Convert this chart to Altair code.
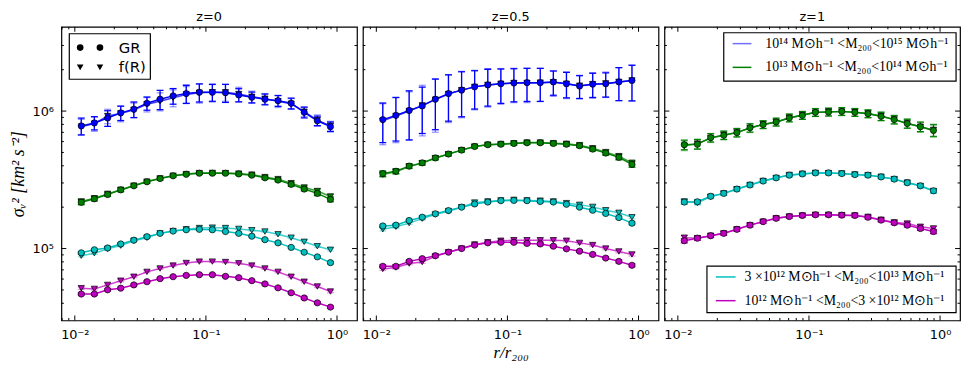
import altair as alt
import pandas as pd

# ---------------- data ----------------
r_bins = [0.0112, 0.0141, 0.0178, 0.0224, 0.0282, 0.0355, 0.0447, 0.0562, 0.0708, 0.0891,
          0.112, 0.141, 0.178, 0.224, 0.282, 0.355, 0.447, 0.562, 0.708, 0.891]

mass_bins = ["m14", "m13", "m3e12", "m12"]
mass_colors = ["#0000ff", "#008000", "#00bfbf", "#bf00bf"]
panel_titles = ["z=0", "z=0.5", "z=1"]

# z = 0
z0_m14_gr = [7.8e5, 8.2e5, 8.9e5, 9.7e5, 1.03e6, 1.14e6, 1.22e6, 1.29e6, 1.34e6, 1.37e6,
             1.37e6, 1.36e6, 1.31e6, 1.26e6, 1.22e6, 1.19e6, 1.14e6, 9.8e5, 8.5e5, 7.7e5]
z0_m14_fr = [7.7e5, 8.1e5, 9.2e5, 9.6e5, 1.02e6, 1.12e6, 1.18e6, 1.25e6, 1.32e6, 1.36e6,
             1.37e6, 1.37e6, 1.33e6, 1.27e6, 1.23e6, 1.18e6, 1.13e6, 9.9e5, 8.6e5, 7.8e5]
z0_m13_gr = [2.17e5, 2.30e5, 2.47e5, 2.67e5, 2.86e5, 3.06e5, 3.23e5, 3.38e5, 3.47e5, 3.53e5,
             3.53e5, 3.53e5, 3.49e5, 3.42e5, 3.27e5, 3.15e5, 2.93e5, 2.71e5, 2.52e5, 2.28e5]
z0_m13_fr = [2.20e5, 2.32e5, 2.50e5, 2.68e5, 2.87e5, 3.07e5, 3.24e5, 3.39e5, 3.48e5, 3.54e5,
             3.55e5, 3.54e5, 3.51e5, 3.45e5, 3.31e5, 3.20e5, 2.99e5, 2.78e5, 2.62e5, 2.39e5]
z0_m3e12_gr = [9.31e4, 9.80e4, 1.01e5, 1.08e5, 1.15e5, 1.22e5, 1.29e5, 1.34e5, 1.37e5, 1.38e5,
               1.37e5, 1.33e5, 1.29e5, 1.23e5, 1.16e5, 1.10e5, 1.02e5, 9.4e4, 8.7e4, 7.9e4]
z0_m3e12_fr = [8.87e4, 9.25e4, 9.95e4, 1.05e5, 1.14e5, 1.20e5, 1.29e5, 1.34e5, 1.38e5, 1.41e5,
               1.42e5, 1.41e5, 1.39e5, 1.36e5, 1.33e5, 1.27e5, 1.20e5, 1.12e5, 1.04e5, 9.8e4]
z0_m12_gr = [4.67e4, 4.67e4, 5.01e4, 5.15e4, 5.44e4, 5.74e4, 6.04e4, 6.24e4, 6.38e4, 6.45e4,
             6.45e4, 6.28e4, 6.14e4, 5.84e4, 5.53e4, 5.18e4, 4.77e4, 4.37e4, 4.03e4, 3.75e4]
z0_m12_fr = [5.15e4, 5.09e4, 5.44e4, 5.84e4, 6.24e4, 6.77e4, 7.16e4, 7.52e4, 7.85e4, 8.04e4,
             8.04e4, 7.98e4, 7.81e4, 7.52e4, 7.16e4, 6.77e4, 6.24e4, 5.74e4, 5.30e4, 4.87e4]

# z = 0.5
z05_m14_gr = [8.67e5, 9.31e5, 1.01e6, 1.09e6, 1.22e6, 1.34e6, 1.42e6, 1.50e6, 1.55e6, 1.58e6,
              1.60e6, 1.61e6, 1.61e6, 1.63e6, 1.58e6, 1.52e6, 1.57e6, 1.58e6, 1.63e6, 1.67e6]
z05_m14_fr = [8.50e5, 9.20e5, 1.00e6, 1.10e6, 1.21e6, 1.33e6, 1.42e6, 1.50e6, 1.55e6, 1.58e6,
              1.60e6, 1.60e6, 1.61e6, 1.62e6, 1.58e6, 1.53e6, 1.57e6, 1.59e6, 1.63e6, 1.67e6]
z05_m13_gr = [3.51e5, 3.65e5, 3.98e5, 4.20e5, 4.56e5, 4.87e5, 5.20e5, 5.53e5, 5.69e5, 5.74e5,
              5.81e5, 5.88e5, 5.88e5, 5.81e5, 5.74e5, 5.60e5, 5.29e5, 4.95e5, 4.61e5, 4.09e5]
z05_m13_fr = [3.45e5, 3.62e5, 3.95e5, 4.18e5, 4.55e5, 4.86e5, 5.20e5, 5.52e5, 5.70e5, 5.76e5,
              5.83e5, 5.90e5, 5.90e5, 5.84e5, 5.78e5, 5.65e5, 5.36e5, 5.03e5, 4.70e5, 4.20e5]
z05_m3e12_gr = [1.46e5, 1.48e5, 1.60e5, 1.69e5, 1.79e5, 1.89e5, 2.00e5, 2.11e5, 2.18e5, 2.23e5,
                2.24e5, 2.23e5, 2.20e5, 2.18e5, 2.10e5, 2.00e5, 1.90e5, 1.80e5, 1.68e5, 1.53e5]
z05_m3e12_fr = [1.38e5, 1.44e5, 1.53e5, 1.65e5, 1.77e5, 1.87e5, 2.00e5, 2.16e5, 2.20e5, 2.24e5,
                2.26e5, 2.24e5, 2.23e5, 2.20e5, 2.14e5, 2.08e5, 2.01e5, 1.90e5, 1.82e5, 1.69e5]
z05_m12_gr = [7.43e4, 7.43e4, 8.07e4, 8.44e4, 8.87e4, 9.41e4, 1.00e5, 1.06e5, 1.10e5, 1.11e5,
              1.11e5, 1.09e5, 1.08e5, 1.04e5, 9.95e4, 9.57e4, 9.06e4, 8.53e4, 8.07e4, 7.56e4]
z05_m12_fr = [7.11e4, 7.28e4, 7.78e4, 7.98e4, 8.77e4, 9.41e4, 1.00e5, 1.07e5, 1.11e5, 1.14e5,
              1.15e5, 1.15e5, 1.15e5, 1.15e5, 1.14e5, 1.10e5, 1.06e5, 1.00e5, 9.53e4, 9.06e4]

# z = 1 (no 1e14 haloes)
z1_m13_gr = [5.69e5, 5.74e5, 6.41e5, 6.67e5, 6.97e5, 7.56e5, 7.98e5, 8.34e5, 8.91e5, 9.31e5,
             9.79e5, 9.84e5, 9.95e5, 9.79e5, 9.57e5, 9.16e5, 8.67e5, 8.11e5, 7.69e5, 7.23e5]
z1_m13_fr = [5.60e5, 5.80e5, 6.35e5, 6.70e5, 7.00e5, 7.50e5, 8.00e5, 8.30e5, 8.95e5, 9.35e5,
             9.75e5, 9.90e5, 9.90e5, 9.80e5, 9.60e5, 9.20e5, 8.70e5, 8.15e5, 7.70e5, 7.30e5]
z1_m3e12_gr = [2.18e5, 2.19e5, 2.40e5, 2.52e5, 2.71e5, 2.90e5, 3.10e5, 3.27e5, 3.42e5, 3.49e5,
               3.55e5, 3.55e5, 3.51e5, 3.45e5, 3.42e5, 3.32e5, 3.20e5, 3.01e5, 2.86e5, 2.63e5]
z1_m3e12_fr = [2.20e5, 2.15e5, 2.38e5, 2.52e5, 2.70e5, 2.90e5, 3.10e5, 3.26e5, 3.43e5, 3.50e5,
               3.55e5, 3.54e5, 3.52e5, 3.46e5, 3.42e5, 3.33e5, 3.20e5, 3.02e5, 2.85e5, 2.62e5]
z1_m12_gr = [1.14e5, 1.19e5, 1.24e5, 1.29e5, 1.38e5, 1.48e5, 1.57e5, 1.66e5, 1.71e5, 1.74e5,
             1.76e5, 1.76e5, 1.75e5, 1.74e5, 1.69e5, 1.61e5, 1.54e5, 1.48e5, 1.40e5, 1.33e5]
z1_m12_fr = [1.20e5, 1.19e5, 1.24e5, 1.29e5, 1.38e5, 1.48e5, 1.57e5, 1.66e5, 1.71e5, 1.74e5,
             1.76e5, 1.76e5, 1.75e5, 1.74e5, 1.70e5, 1.62e5, 1.55e5, 1.52e5, 1.44e5, 1.40e5]

# relative 1-sigma errors
z0_m14_gr_err = [0.14, 0.11, 0.13, 0.12, 0.13, 0.11, 0.16, 0.13, 0.15, 0.15,
                 0.14, 0.15, 0.11, 0.09, 0.09, 0.09, 0.09, 0.09, 0.08, 0.08]
z0_m14_fr_err = [0.13, 0.12, 0.12, 0.13, 0.12, 0.12, 0.15, 0.14, 0.14, 0.16,
                 0.15, 0.14, 0.12, 0.10, 0.09, 0.10, 0.09, 0.08, 0.09, 0.08]
z0_m13_err = [0.04, 0.035, 0.03, 0.03, 0.025, 0.025, 0.025, 0.02, 0.02, 0.02,
              0.02, 0.02, 0.02, 0.02, 0.025, 0.025, 0.03, 0.03, 0.035, 0.04]
z0_low_err = [0.02, 0.02, 0.018, 0.018, 0.015, 0.015, 0.015, 0.015, 0.015, 0.015,
              0.015, 0.015, 0.015, 0.015, 0.015, 0.015, 0.015, 0.018, 0.018, 0.02]
z05_m14_gr_err = [0.32, 0.35, 0.39, 0.37, 0.40, 0.37, 0.36, 0.31, 0.30, 0.28,
                  0.27, 0.27, 0.27, 0.20, 0.21, 0.19, 0.20, 0.20, 0.27, 0.29]
z05_m14_fr_err = [0.33, 0.36, 0.38, 0.40, 0.42, 0.38, 0.37, 0.32, 0.31, 0.29,
                  0.28, 0.28, 0.27, 0.21, 0.22, 0.19, 0.21, 0.21, 0.27, 0.29]
z05_m13_err = [0.045, 0.04, 0.035, 0.035, 0.03, 0.03, 0.03, 0.025, 0.025, 0.025,
               0.025, 0.025, 0.025, 0.025, 0.03, 0.03, 0.03, 0.035, 0.04, 0.045]
z05_low_err = [0.025, 0.025, 0.02, 0.02, 0.02, 0.018, 0.018, 0.018, 0.018, 0.018,
               0.018, 0.018, 0.018, 0.018, 0.018, 0.02, 0.02, 0.02, 0.025, 0.025]
z1_m13_err = [0.08, 0.08, 0.07, 0.07, 0.07, 0.07, 0.065, 0.065, 0.065, 0.065,
              0.065, 0.065, 0.065, 0.065, 0.065, 0.07, 0.07, 0.075, 0.08, 0.10]
z1_low_err = [0.035, 0.035, 0.03, 0.03, 0.03, 0.028, 0.028, 0.028, 0.028, 0.028,
              0.028, 0.028, 0.028, 0.028, 0.028, 0.028, 0.03, 0.03, 0.03, 0.035]

panels = [
    {
        "m14": (z0_m14_gr, z0_m14_fr, z0_m14_gr_err, z0_m14_fr_err),
        "m13": (z0_m13_gr, z0_m13_fr, z0_m13_err, z0_m13_err),
        "m3e12": (z0_m3e12_gr, z0_m3e12_fr, z0_low_err, z0_low_err),
        "m12": (z0_m12_gr, z0_m12_fr, z0_low_err, z0_low_err),
    },
    {
        "m14": (z05_m14_gr, z05_m14_fr, z05_m14_gr_err, z05_m14_fr_err),
        "m13": (z05_m13_gr, z05_m13_fr, z05_m13_err, z05_m13_err),
        "m3e12": (z05_m3e12_gr, z05_m3e12_fr, z05_low_err, z05_low_err),
        "m12": (z05_m12_gr, z05_m12_fr, z05_low_err, z05_low_err),
    },
    {
        "m13": (z1_m13_gr, z1_m13_fr, z1_m13_err, z1_m13_err),
        "m3e12": (z1_m3e12_gr, z1_m3e12_fr, z1_low_err, z1_low_err),
        "m12": (z1_m12_gr, z1_m12_fr, z1_low_err, z1_low_err),
    },
]

legend_top = ["10¹⁴ M⊙h⁻¹ <M₂₀₀<10¹⁵ M⊙h⁻¹", "10¹³ M⊙h⁻¹ <M₂₀₀<10¹⁴ M⊙h⁻¹"]
legend_bottom = ["3 ×10¹² M⊙h⁻¹ <M₂₀₀<10¹³ M⊙h⁻¹", "10¹² M⊙h⁻¹ <M₂₀₀<3 ×10¹² M⊙h⁻¹"]
legend_line_colors = ["#6f6fff", "#008000", "#00bfbf", "#bf00bf"]

x_major = [0.01, 0.1, 1.0]
x_minor = [0.008, 0.009, 0.02, 0.03, 0.04, 0.05, 0.06, 0.07, 0.08, 0.09,
           0.2, 0.3, 0.4, 0.5, 0.6, 0.7, 0.8, 0.9]
y_major = [1e5, 1e6]
y_minor = [4e4, 5e4, 6e4, 7e4, 8e4, 9e4, 2e5, 3e5, 4e5, 5e5, 6e5, 7e5, 8e5, 9e5, 2e6, 3e6]

# ---------------- layout constants ----------------
W, H = 299, 297
X_DOMAIN = [0.0079, 1.42]
Y_DOMAIN = [3.0e4, 4.1e6]
SANS = "DejaVu Sans"
SERIF = "Liberation Serif"

xscale = alt.Scale(type="log", domain=X_DOMAIN, nice=False)
yscale = alt.Scale(type="log", domain=Y_DOMAIN, nice=False)
cscale = alt.Scale(domain=mass_bins, range=mass_colors)
shape_scale = alt.Scale(domain=["GR", "fR"], range=["circle", "triangle-down"])

X_LABELS = "datum.value < 0.05 ? '10⁻²' : (datum.value < 0.5 ? '10⁻¹' : '10⁰')"
Y_LABELS = "datum.value < 5e5 ? '10⁵' : '10⁶'"
IS_GR = alt.datum.model == "GR"


def one_row():
    return pd.DataFrame({"k": [0]})


def panel_frame(series):
    rows = []
    for model in ["fR", "GR"]:
        for mass in mass_bins:
            if mass not in series:
                continue
            gr, fr, egr, efr = series[mass]
            vals = fr if model == "fR" else gr
            errs = efr if model == "fR" else egr
            for x, v, e in zip(r_bins, vals, errs):
                rows.append({"x": x, "v": v, "lo": v * (1 - e), "hi": v * (1 + e),
                             "mass": mass, "model": model})
    return pd.DataFrame(rows)


def tick_layers(xaxis, yaxis):
    layers = []
    for vals, size in [(x_major, 5), (x_minor, 2.5)]:
        d = pd.DataFrame({"t": [v for v in vals if X_DOMAIN[0] < v < X_DOMAIN[1]]})
        for y0, y1 in [(0, size), (H, H - size)]:
            layers.append(alt.Chart(d).mark_rule(color="black", strokeWidth=1).encode(
                x=alt.X("t:Q", scale=xscale, axis=xaxis),
                y=alt.value(y0), y2=alt.value(y1)))
    for vals, size in [(y_major, 5), (y_minor, 2.5)]:
        d = pd.DataFrame({"t": [v for v in vals if Y_DOMAIN[0] < v < Y_DOMAIN[1]]})
        for x0, x1 in [(0, size), (W, W - size)]:
            layers.append(alt.Chart(d).mark_rule(color="black", strokeWidth=1).encode(
                y=alt.Y("t:Q", scale=yscale, axis=yaxis),
                x=alt.value(x0), x2=alt.value(x1)))
    return layers


def make_panel(idx):
    df = panel_frame(panels[idx])
    xaxis = alt.Axis(values=x_major, labelExpr=X_LABELS, ticks=False, domain=False, grid=False,
                     labelFont=SANS, labelFontSize=13, labelPadding=8, labelColor="black",
                     labelFlush=False,
                     title="r/r₂₀₀" if idx == 1 else "",
                     titleFont=SERIF, titleFontStyle="italic", titleFontWeight="normal",
                     titleFontSize=17, titlePadding=3, titleColor="black")
    if idx == 0:
        yaxis = alt.Axis(values=y_major, labelExpr=Y_LABELS, ticks=False, domain=False, grid=False,
                         labelFont=SANS, labelFontSize=13, labelPadding=8, labelColor="black",
                         title="σᵥ²   [km² s⁻²]", titleFont=SERIF, titleFontStyle="italic",
                         titleFontWeight="normal", titleFontSize=18, titlePadding=5,
                         titleColor="black")
    else:
        yaxis = None

    base = alt.Chart(df)
    x = alt.X("x:Q", scale=xscale, axis=xaxis)
    col = alt.Color("mass:N", scale=cscale, legend=None)
    op = alt.condition(IS_GR, alt.value(1.0), alt.value(0.4))

    err = base.mark_rule(strokeWidth=1.3).encode(
        x=x, y=alt.Y("lo:Q", scale=yscale, axis=yaxis), y2="hi:Q", color=col, opacity=op)
    cap_lo = base.mark_tick(orient="horizontal", size=7, thickness=1.3).encode(
        x=x, y=alt.Y("lo:Q", scale=yscale, axis=yaxis), color=col, opacity=op)
    cap_hi = base.mark_tick(orient="horizontal", size=7, thickness=1.3).encode(
        x=x, y=alt.Y("hi:Q", scale=yscale, axis=yaxis), color=col, opacity=op)
    line = base.mark_line(strokeWidth=1.5).encode(
        x=x, y=alt.Y("v:Q", scale=yscale, axis=yaxis), color=col, detail="model:N",
        opacity=alt.condition(IS_GR, alt.value(1.0), alt.value(0.75)))
    pts = base.mark_point(filled=True, size=40, stroke="black", strokeWidth=0.7, opacity=1).encode(
        x=x, y=alt.Y("v:Q", scale=yscale, axis=yaxis),
        fill=alt.Fill("mass:N", scale=cscale, legend=None),
        shape=alt.Shape("model:N", scale=shape_scale, legend=None))

    layers = [err, cap_lo, cap_hi, line, pts] + tick_layers(xaxis, yaxis)

    if idx == 0:
        layers.append(alt.Chart(one_row()).mark_rect(fill="white", stroke="black", strokeWidth=1.2).encode(
            x=alt.value(8), x2=alt.value(90), y=alt.value(7), y2=alt.value(53)))
        for yy, shp, lab in [(21, "circle", "GR"), (41, "triangle-down", "f(R)")]:
            for xx in (19, 39):
                layers.append(alt.Chart(one_row()).mark_point(
                    shape=shp, filled=True, color="black", size=45, opacity=1).encode(
                    x=alt.value(xx), y=alt.value(yy)))
            layers.append(alt.Chart(one_row()).mark_text(
                text=lab, font=SANS, fontSize=15, align="left", baseline="middle", color="black").encode(
                x=alt.value(58), y=alt.value(yy)))
    if idx == 2:
        boxes = [((60, 295, 6, 55), (69, 88), 102, (17, 41), legend_top, legend_line_colors[:2]),
                 ((43, 295, 242, 289), (52, 72), 81, (253, 277), legend_bottom, legend_line_colors[2:])]
        for (bx0, bx1, by0, by1), (lx0, lx1), tx, ys, labels, cols in boxes:
            layers.append(alt.Chart(one_row()).mark_rect(fill="white", stroke="black", strokeWidth=1.2).encode(
                x=alt.value(bx0), x2=alt.value(bx1), y=alt.value(by0), y2=alt.value(by1)))
            for yy, lab, c in zip(ys, labels, cols):
                layers.append(alt.Chart(one_row()).mark_rule(color=c, strokeWidth=1.5).encode(
                    x=alt.value(lx0), x2=alt.value(lx1), y=alt.value(yy)))
                layers.append(alt.Chart(one_row()).mark_text(
                    text=lab, font=SERIF, fontSize=14, align="left", baseline="middle",
                    color="black").encode(x=alt.value(tx), y=alt.value(yy)))

    return alt.layer(*layers).properties(
        width=W, height=H,
        title=alt.TitleParams(panel_titles[idx], font=SANS, fontSize=13, fontWeight="normal",
                              color="black", offset=2))


chart = alt.hconcat(make_panel(0), make_panel(1), make_panel(2), spacing=2).properties(
    padding={"left": 0, "top": 0, "right": 0, "bottom": 0},
    background="white",
).configure_view(stroke="black", strokeWidth=1.2)

chart.save("out.html", embed_options={"renderer": "svg", "actions": False})
